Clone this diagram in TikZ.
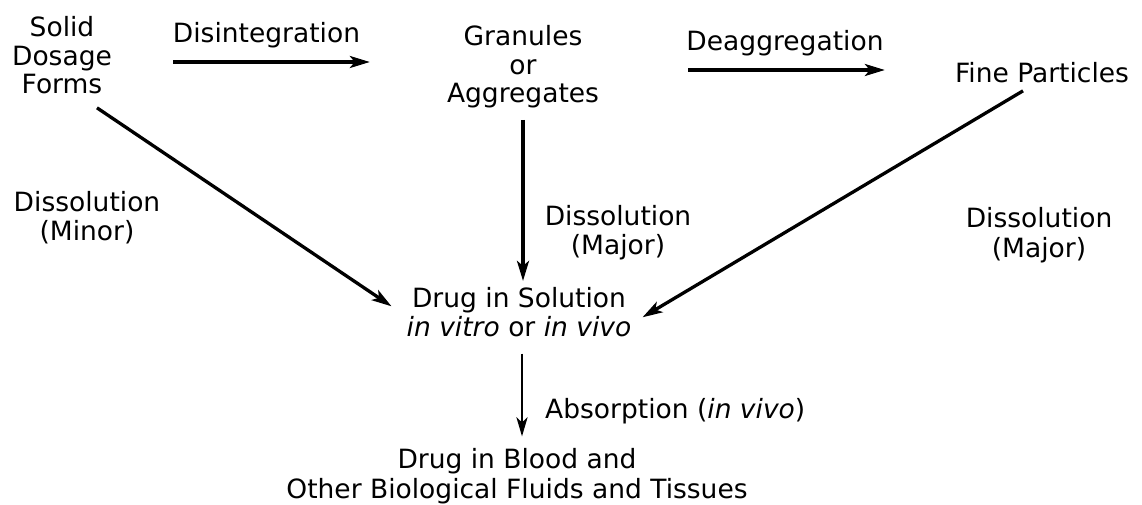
\documentclass[tikz,border=0pt]{standalone}
\usepackage{fontspec}
\setmainfont{DejaVu Sans}
\usetikzlibrary{arrows.meta,calc}
\newcommand{\diafont}{\fontsize{26.5}{28.5}\selectfont}
\tikzset{
  lbl/.style={inner sep=0pt, align=center, font=\diafont},
  arr/.style={line width=3.3pt, -{Stealth[length=20pt,width=12pt,inset=5pt]}},
  thinarr/.style={line width=2.9pt, -{Stealth[length=19pt,width=11pt,inset=5pt]}}
}
\begin{document}
\begin{tikzpicture}[x=1pt,y=-1pt]
\useasboundingbox[fill=white] (0,0) rectangle (1142,505);
% nodes
\node[lbl] (sdf)   at (62,59.3)   {\strut Solid\\\strut Dosage\\\strut Forms};
\node[lbl] (gran)  at (523,68.3)  {\strut Granules\\\strut or\\\strut Aggregates};
\node[lbl] (fine)  at (1042,76.3) {\strut Fine Particles};
\node[lbl] (sol)   at (519,316.3) {\strut Drug in Solution\\\strut\textit{in vitro} or \textit{in vivo}};
\node[lbl] (blood) at (517,477.8) {\strut Drug in Blood and\\\strut Other Biological Fluids and Tissues};
% labels
\node[lbl] (ldis)  at (266.5,36.3) {\strut Disintegration};
\node[lbl] (ldeag) at (785,44.3)   {\strut Deaggregation};
\node[lbl] (lmin)  at (87,220.3)   {\strut Dissolution\\\strut (Minor)};
\node[lbl] (lmaj1) at (618,234.3)  {\strut Dissolution\\\strut (Major)};
\node[lbl] (lmaj2) at (1039,236.8) {\strut Dissolution\\\strut (Major)};
\node[lbl,anchor=west] (labs) at (545,412.3) {\strut Absorption (\textit{in vivo})};
% connectors
\draw[arr, shorten <=61pt, shorten >=77pt] (sdf.east |- 0,62) -- (gran.west |- 0,62);
\draw[arr, shorten <=89pt, shorten >=70pt] (gran.east |- 0,70) -- (fine.west |- 0,70);
\draw[arr] ([shift={(35,5.5)}]sdf.south) -- ([shift={(-15,-10)}]sol.west);
\draw[arr, shorten <=8.5pt, shorten >=6pt] (gran.south) -- (gran.south |- sol.north);
\draw[arr] ([shift={(-19,0)}]fine.south) -- ([shift={(11,1)}]sol.east);
\draw[thinarr, shorten <=8pt, shorten >=12pt] ([xshift=3pt]sol.south) -- ([xshift=3pt]sol.south |- blood.north);
\end{tikzpicture}
\end{document}
